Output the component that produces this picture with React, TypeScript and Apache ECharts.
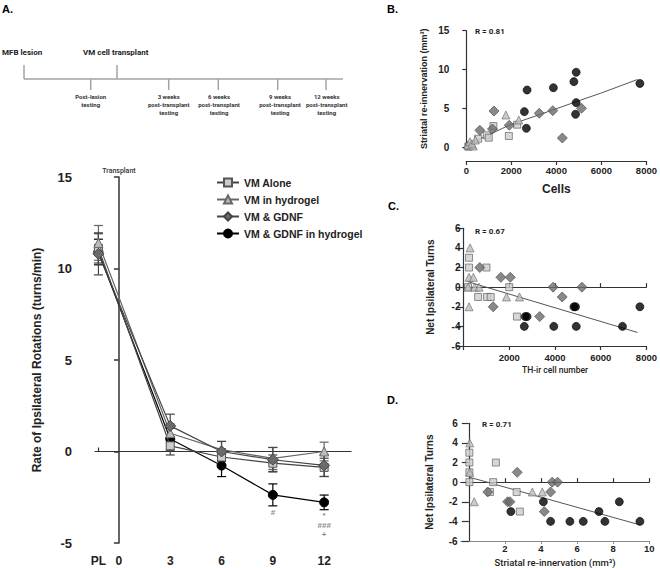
import React, { useEffect, useRef } from "react";
import * as echarts from "echarts";

// ---------- Panel A: rotation over time ----------
const PL_X = -1.2;
const timeTickValues = [PL_X, 0, 3, 6, 9, 12];
const timeTickLabels = ["PL", "0", "3", "6", "9", "12"];
const testX = [PL_X, 3, 6, 9, 12];

const aloneMean = [11.1, 0.31, -0.3, -0.64, -0.87];
const aloneErr = [0.8, 0.5, 0.45, 0.45, 0.5];
const hydroMean = [11.4, 1.0, 0.1, -0.38, 0.0];
const hydroErr = [0.95, 0.5, 0.45, 0.6, 0.51];
const gdnfMean = [10.8, 1.4, 0.0, -0.45, -0.76];
const gdnfErr = [1.15, 0.64, 0.55, 0.67, 0.6];
const gdnfHydroMean = [10.9, 0.68, -0.77, -2.37, -2.78];
const gdnfHydroErr = [0.7, 0.6, 0.6, 0.6, 0.4];

const annotX = [9, 12, 12, 12];
const annotY = [-3.33, -3.5, -4.06, -4.55];
const annotText = ["#", "*", "###", "+"];

// ---------- Panel B: re-innervation vs cells ----------
const bAlone = [[88, 0.05], [119, 0.1], [527, 1.07], [910, 1.51], [998, 1.2], [1204, 2.7], [1890, 1.42], [2259, 2.88]];
const bHydro = [[62, 0.26], [163, 0.68], [308, 0.13], [250, 0.4], [400, 0.9], [1758, 4.13], [2330, 3.48]];
const bGdnf = [[602, 2.15], [1160, 2.32], [1231, 4.64], [1908, 2.8], [3240, 4.34], [3841, 4.69], [4264, 1.16], [5116, 4.99]];
const bGdnfHydro = [[2580, 4.56], [2668, 2.41], [2699, 7.35], [3868, 7.65], [4778, 8.43], [4853, 4.22], [4880, 5.72], [4880, 9.64], [7710, 8.2]];
const bFit = [[80, 0.3], [1921, 2.84], [3841, 4.77], [4880, 5.85], [5951, 6.92], [7600, 8.7]];

// ---------- Panel C: turns vs TH-ir cells ----------
const cAlone = [[242, 3], [242, 2], [1004, 2], [198, 0], [2000, 0], [640, -1], [1030, -1], [1190, -1], [2337, -3]];
const cHydro = [[286, 4], [242, 1], [432, 1], [198, 0], [491, 0], [681, 0], [242, -2], [1880, -1], [2450, -1]];
const cGdnf = [[711, 2], [1634, 1], [2044, 1], [3919, 0], [5180, 0], [4315, -1], [1297, -2], [3333, -3]];
const cGdnfHydro = [[4830, -2], [4900, -2], [7714, -2], [2700, -3], [2780, -3], [2659, -4], [3949, -4], [4930, -4], [6952, -4]];
const cFit = [[170, 0.57], [7610, -4.62]];

// ---------- Panel D: turns vs re-innervation ----------
const dAlone = [[0.03, 3], [0.03, 2], [0.03, 1], [0.03, 0], [1.5, 2], [1.35, 0], [1.17, -1], [2.65, -1], [2.83, -3]];
const dHydro = [[0.05, 4], [0.05, 1], [0.3, -2], [3.52, -1], [4.07, -1]];
const dGdnf = [[2.68, 1], [4.62, 0], [4.92, 0], [4.53, -1], [2.15, -2], [2.28, -2], [4.18, -3], [1.05, -1]];
const dGdnfHydro = [[4.13, -2], [8.34, -2], [2.33, -3], [7.21, -3], [4.53, -4], [5.6, -4], [6.34, -4], [7.54, -4], [9.48, -4]];
const dFit = [[0.02, 0.51], [9.45, -4.34]];

const groupNames = ["VM Alone", "VM in hydrogel", "VM & GDNF", "VM & GDNF in hydrogel"];

const ARIAL = "'Liberation Sans', Arial, sans-serif";
const CAL = "Roboto, 'Liberation Sans', sans-serif";

const styles = {
  alone: { symbol: "rect", size: 8, fill: "#cdcdcd", border: "#555", line: "#444" },
  hydro: { symbol: "triangle", size: 9, fill: "#bdbdbd", border: "#666", line: "#666" },
  gdnf: { symbol: "diamond", size: 11, fill: "#6b6b6b", border: "#444", line: "#444" },
  gdnfHydro: { symbol: "circle", size: 9, fill: "#000", border: "#000", line: "#000" },
};

function errorSeries(name: string, means: number[], errs: number[], color: string) {
  return {
    type: "custom",
    name: name + " err",
    xAxisIndex: 0,
    yAxisIndex: 0,
    silent: true,
    z: 1,
    data: testX.map((x, i) => [x, means[i] - errs[i], means[i] + errs[i]]),
    renderItem: (_p: any, api: any) => {
      const x = api.value(0);
      const lo = api.coord([x, api.value(1)]);
      const hi = api.coord([x, api.value(2)]);
      const w = 4.5;
      const st = { stroke: color, lineWidth: 1.2 };
      return {
        type: "group",
        children: [
          { type: "line", shape: { x1: lo[0], y1: lo[1], x2: hi[0], y2: hi[1] }, style: st },
          { type: "line", shape: { x1: lo[0] - w, y1: lo[1], x2: lo[0] + w, y2: lo[1] }, style: st },
          { type: "line", shape: { x1: hi[0] - w, y1: hi[1], x2: hi[0] + w, y2: hi[1] }, style: st },
        ],
      };
    },
  };
}

function lineSeries(name: string, means: number[], s: any, z: number) {
  return {
    type: "line",
    name,
    xAxisIndex: 0,
    yAxisIndex: 0,
    z,
    data: testX.map((x, i) => [x, means[i]]),
    symbol: s.symbol,
    symbolSize: s.size,
    lineStyle: { color: s.line, width: 1.2 },
    itemStyle: { color: s.fill, borderColor: s.border, borderWidth: 1 },
  };
}

function scatter(name: string, data: number[][], s: any, xi: number, yi: number) {
  return {
    type: "scatter",
    name,
    xAxisIndex: xi,
    yAxisIndex: yi,
    data,
    symbol: s.symbol,
    symbolSize: s.size - 1,
    itemStyle: { color: s.fill, borderColor: s.border, borderWidth: 0.8 },
    z: 3,
  };
}

function fitLine(name: string, data: number[][], xi: number, yi: number) {
  return {
    type: "line",
    name,
    xAxisIndex: xi,
    yAxisIndex: yi,
    data,
    symbol: "none",
    lineStyle: { color: "#555", width: 1 },
    z: 2,
  };
}

const axisLineStyle = { color: "#333", width: 1.2 };
const plain = (v: number) => String(v);

export default function App() {
  const ref = useRef<HTMLDivElement>(null);
  useEffect(() => {
    if (!ref.current) return;
    const chart = echarts.init(ref.current, undefined, { renderer: "svg" });

    const tlStroke = { stroke: "#a3a3a3", lineWidth: 1.5 };
    const downTicks = [90.7, 168.7, 218.3, 277.7, 326];
    const subLabels = [
      "Post-lesion\ntesting",
      "3 weeks\npost-transplant\ntesting",
      "6 weeks\npost-transplant\ntesting",
      "9 weeks\npost-transplant\ntesting",
      "12 weeks\npost-transplant\ntesting",
    ];
    const subCenters = [90.7, 168.7, 219, 280, 326.7];

    const graphic: any[] = [
      { type: "line", shape: { x1: 24, y1: 79, x2: 343, y2: 79 }, style: tlStroke },
      { type: "line", shape: { x1: 24, y1: 65, x2: 24, y2: 79 }, style: tlStroke },
      { type: "line", shape: { x1: 117, y1: 65, x2: 117, y2: 79 }, style: tlStroke },
      ...downTicks.map((x) => ({ type: "line", shape: { x1: x, y1: 79, x2: x, y2: 90 }, style: tlStroke })),
      { type: "text", x: 2, y: 52, style: { text: "MFB lesion", font: `bold 8px ${CAL}`, fill: "#222", verticalAlign: "middle" } },
      { type: "text", x: 83, y: 52, style: { text: "VM cell transplant", font: `bold 8px ${CAL}`, fill: "#222", verticalAlign: "middle" } },
      ...subLabels.map((t, i) => ({
        type: "text",
        x: subCenters[i],
        y: 92,
        style: { text: t, font: `bold 6px ${CAL}`, fill: "#333", align: "center", verticalAlign: "top", lineHeight: 8.3 },
      })),
      { type: "text", x: 2, y: 3, style: { text: "A.", font: `bold 11px ${ARIAL}`, fill: "#000" } },
      { type: "text", x: 387, y: 3, style: { text: "B.", font: `bold 11px ${ARIAL}`, fill: "#000" } },
      { type: "text", x: 388, y: 200, style: { text: "C.", font: `bold 11px ${ARIAL}`, fill: "#000" } },
      { type: "text", x: 387, y: 394, style: { text: "D.", font: `bold 11px ${ARIAL}`, fill: "#000" } },
      { type: "text", x: 475, y: 31, style: { text: "R = 0.81", font: `bold 8px ${CAL}`, fill: "#222", verticalAlign: "middle" } },
      { type: "text", x: 475, y: 231, style: { text: "R = 0.67", font: `bold 8px ${CAL}`, fill: "#222", verticalAlign: "middle" } },
      { type: "text", x: 482, y: 424, style: { text: "R = 0.71", font: `bold 8px ${CAL}`, fill: "#222", verticalAlign: "middle" } },
    ];

    const smallLabel = { fontFamily: ARIAL, fontWeight: "bold", fontSize: 9.5, color: "#222" };

    const option: any = {
      animation: false,
      backgroundColor: "#fff",
      textStyle: { fontFamily: ARIAL },
      graphic,
      legend: {
        data: groupNames,
        orient: "vertical",
        left: 211,
        top: 172,
        itemWidth: 22,
        itemHeight: 10,
        itemGap: 6,
        selectedMode: false,
        textStyle: { fontFamily: ARIAL, fontWeight: "bold", fontSize: 10.5, color: "#222" },
      },
      grid: [
        { left: 95, top: 177, width: 256, height: 366 },
        { left: 466.3, top: 30.7, width: 182, height: 116.3 },
        { left: 463.5, top: 228.3, width: 183, height: 117.7 },
        { left: 460.7, top: 423.3, width: 188.6, height: 117.7 },
      ],
      xAxis: [
        // 0: A labels
        {
          type: "value", gridIndex: 0, min: -1.4, max: 13.57,
          axisLine: { show: false, onZero: false },
          axisTick: { show: false },
          splitLine: { show: false },
          axisLabel: {
            customValues: timeTickValues,
            formatter: (v: number) => timeTickLabels[timeTickValues.indexOf(v)] ?? "",
            fontFamily: ARIAL, fontWeight: "bold", fontSize: 12, color: "#222", margin: 12,
          },
        },
        // 1: A zero line
        {
          type: "value", gridIndex: 0, min: -1.4, max: 13.57,
          axisLine: { show: true, onZero: true, lineStyle: axisLineStyle },
          axisTick: { show: true, customValues: [PL_X], length: 4, lineStyle: axisLineStyle },
          axisLabel: { show: false },
          splitLine: { show: false },
        },
        // 2: B
        {
          type: "value", gridIndex: 1, min: 0, max: 8000, interval: 2000, offset: 14,
          axisLine: { show: true, onZero: false, lineStyle: axisLineStyle },
          axisTick: { show: true, length: 4, lineStyle: axisLineStyle },
          splitLine: { show: false },
          axisLabel: { ...smallLabel, margin: 4, formatter: plain },
          name: "Cells", nameLocation: "middle", nameGap: 22,
          nameTextStyle: { fontFamily: ARIAL, fontWeight: "bold", fontSize: 12, color: "#222" },
        },
        // 3: C bottom
        {
          type: "value", gridIndex: 2, min: 0, max: 8000, interval: 2000,
          axisLine: { show: true, onZero: false, lineStyle: axisLineStyle },
          axisTick: { show: true, length: 4, lineStyle: axisLineStyle },
          splitLine: { show: false },
          axisLabel: { ...smallLabel, margin: 6, formatter: (v: number) => (v === 0 ? "" : String(v)) },
          name: "TH-ir cell number", nameLocation: "middle", nameGap: 19,
          nameTextStyle: { fontFamily: CAL, fontWeight: 500, fontSize: 8.5, color: "#222" },
        },
        // 4: C zero line
        {
          type: "value", gridIndex: 2, min: 0, max: 8000, interval: 2000,
          axisLine: { show: true, onZero: true, lineStyle: axisLineStyle },
          axisTick: { show: true, length: 4, lineStyle: axisLineStyle },
          axisLabel: { show: false },
          splitLine: { show: false },
        },
        // 5: D bottom
        {
          type: "value", gridIndex: 3, min: -0.45, max: 10,
          axisLine: { show: true, onZero: false, lineStyle: { color: "#888", width: 1 } },
          axisTick: { show: true, length: 3, customValues: [2, 4, 6, 8, 10], lineStyle: { color: "#888" } },
          splitLine: { show: false },
          axisLabel: { ...smallLabel, margin: 2, customValues: [2, 4, 6, 8, 10], formatter: plain },
          name: "Striatal re-innervation (mm³)", nameLocation: "middle", nameGap: 16,
          nameTextStyle: { fontFamily: CAL, fontWeight: 500, fontSize: 9.5, color: "#222" },
        },
        // 6: D zero line
        {
          type: "value", gridIndex: 3, min: -0.45, max: 10,
          axisLine: { show: true, onZero: true, lineStyle: axisLineStyle },
          axisTick: { show: true, length: 4, customValues: [2, 4, 6, 8, 10], lineStyle: axisLineStyle },
          axisLabel: { show: false },
          splitLine: { show: false },
        },
      ],
      yAxis: [
        {
          type: "value", gridIndex: 0, min: -5, max: 15, interval: 5, offset: 18,
          axisLine: { show: true, lineStyle: { color: "#333", width: 1.5 } },
          axisTick: { show: true, length: 5, lineStyle: { color: "#333", width: 1.5 } },
          splitLine: { show: false },
          axisLabel: { fontFamily: ARIAL, fontWeight: "bold", fontSize: 13, color: "#222", margin: 5 },
          name: "Rate of Ipsilateral Rotations (turns/min)", nameLocation: "middle", nameGap: 34,
          nameTextStyle: { fontFamily: ARIAL, fontWeight: "bold", fontSize: 12, color: "#222" },
        },
        {
          type: "value", gridIndex: 1, min: 0, max: 15, interval: 5, offset: 14,
          axisLine: { show: true, lineStyle: axisLineStyle },
          axisTick: { show: true, length: 4, lineStyle: axisLineStyle },
          splitLine: { show: false },
          axisLabel: { ...smallLabel, fontSize: 10, margin: 3 },
          name: "Striatal re-innervation (mm³)", nameLocation: "middle", nameGap: 24,
          nameTextStyle: { fontFamily: ARIAL, fontWeight: "bold", fontSize: 9, color: "#222" },
        },
        {
          type: "value", gridIndex: 2, min: -6, max: 6, interval: 2,
          axisLine: { show: true, lineStyle: axisLineStyle },
          axisTick: { show: true, length: 7, lineStyle: axisLineStyle },
          splitLine: { show: false },
          axisLabel: { ...smallLabel, fontSize: 10, margin: 3 },
          name: "Net Ipsilateral Turns", nameLocation: "middle", nameGap: 28,
          nameTextStyle: { fontFamily: ARIAL, fontWeight: "bold", fontSize: 10, color: "#222" },
        },
        {
          type: "value", gridIndex: 3, min: -6, max: 6, interval: 2,
          axisLine: { show: true, lineStyle: axisLineStyle },
          axisTick: { show: true, length: 7, lineStyle: axisLineStyle },
          splitLine: { show: false },
          axisLabel: { ...smallLabel, fontSize: 10, margin: 3 },
          name: "Net Ipsilateral Turns", nameLocation: "middle", nameGap: 26,
          nameTextStyle: { fontFamily: ARIAL, fontWeight: "bold", fontSize: 10, color: "#222" },
        },
      ],
      series: [
        errorSeries(groupNames[3], gdnfHydroMean, gdnfHydroErr, styles.gdnfHydro.line),
        errorSeries(groupNames[0], aloneMean, aloneErr, styles.alone.line),
        errorSeries(groupNames[1], hydroMean, hydroErr, styles.hydro.line),
        errorSeries(groupNames[2], gdnfMean, gdnfErr, styles.gdnf.line),
        {
          ...lineSeries(groupNames[3], gdnfHydroMean, styles.gdnfHydro, 3),
          markLine: {
            silent: true,
            symbol: "none",
            lineStyle: { color: "#666", width: 0.8, type: [2.5, 1.5, 0.8, 1.5] },
            label: { show: true, position: "end", formatter: "Transplant", fontFamily: CAL, fontSize: 7, fontWeight: 500, color: "#333", distance: 3 },
            emphasis: { disabled: true },
            data: [{ xAxis: 0 }],
          },
        },
        lineSeries(groupNames[0], aloneMean, styles.alone, 4),
        lineSeries(groupNames[1], hydroMean, styles.hydro, 5),
        lineSeries(groupNames[2], gdnfMean, styles.gdnf, 6),
        {
          type: "scatter",
          name: "significance",
          xAxisIndex: 0,
          yAxisIndex: 0,
          symbolSize: 0,
          silent: true,
          data: annotX.map((x, i) => [x, annotY[i], annotText[i]]),
          label: {
            show: true,
            position: "inside",
            formatter: (p: any) => p.data[2],
            fontFamily: ARIAL,
            fontSize: 8,
            fontWeight: "bold",
            color: "#666",
          },
        },
        // B
        scatter("B alone", bAlone, styles.alone, 2, 1),
        scatter("B hydro", bHydro, styles.hydro, 2, 1),
        scatter("B gdnf", bGdnf, styles.gdnf, 2, 1),
        scatter("B gdnf hydro", bGdnfHydro, styles.gdnfHydro, 2, 1),
        fitLine("B fit", bFit, 2, 1),
        // C
        fitLine("C fit", cFit, 3, 2),
        scatter("C alone", cAlone, styles.alone, 3, 2),
        scatter("C hydro", cHydro, styles.hydro, 3, 2),
        scatter("C gdnf", cGdnf, styles.gdnf, 3, 2),
        scatter("C gdnf hydro", cGdnfHydro, styles.gdnfHydro, 3, 2),
        // D
        fitLine("D fit", dFit, 5, 3),
        scatter("D alone", dAlone, styles.alone, 5, 3),
        scatter("D hydro", dHydro, styles.hydro, 5, 3),
        scatter("D gdnf", dGdnf, styles.gdnf, 5, 3),
        scatter("D gdnf hydro", dGdnfHydro, styles.gdnfHydro, 5, 3),
      ],
    };

    chart.setOption(option);
    return () => chart.dispose();
  }, []);

  return (
    <div
      ref={ref}
      style={{ position: "fixed", left: 0, top: 0, width: 660, height: 568, background: "#fff" }}
    />
  );
}
